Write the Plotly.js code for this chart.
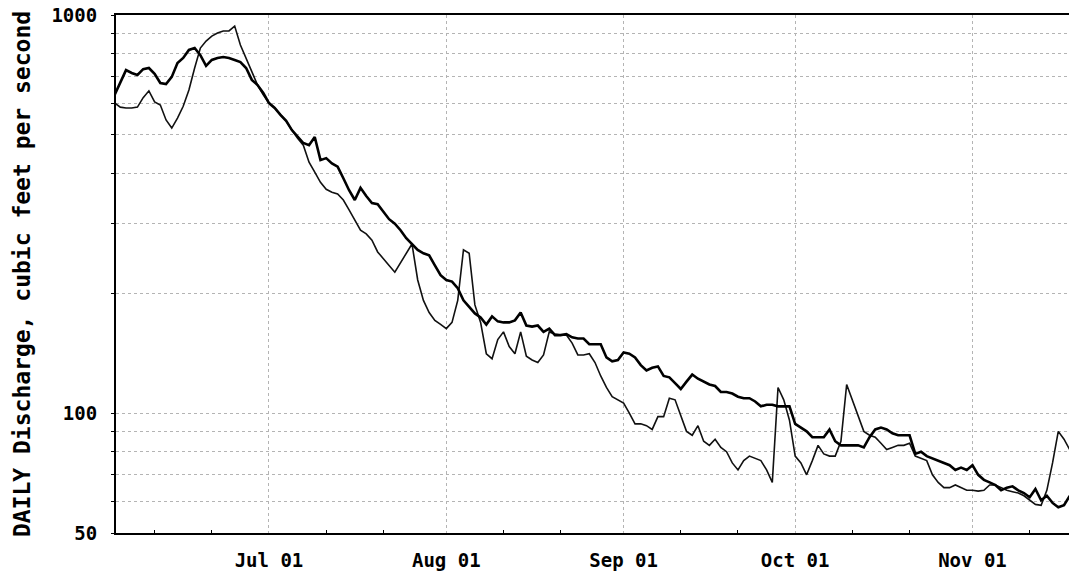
<!DOCTYPE html>
<html>
<head>
<meta charset="utf-8">
<script src="https://cdn.plot.ly/plotly-3.0.1.min.js"></script>
<style>html,body{margin:0;padding:0;background:#fff;}#chart{width:1069px;height:577px;}</style>
</head>
<body>
<div id="chart"></div>
<script>
// First day of both daily series
const startDate = '2001-06-04';

// Thicker series, daily values (cfs), Jun 4 .. Nov 18
const thickJun = [630,675,727,715,707,731,736,712,675,671,699,758,780,817,826,793,745,771,780,784,780,771,762,736,687,667,637];
const thickJul = [601,584,561,542,514,494,477,471,494,432,437,424,416,389,363,343,368,351,337,335,320,307,299,288,275,266,257,252,249,235,222];
const thickAug = [216,214,206,192,185,178,174,167,175,170,169,169,171,179,166,165,166,160,163,157,157,158,155,154,154,149,149,149,138,135,136];
const thickSep = [142,141,138,132,128,130,131,124,123,119,115,120,125,122,120,118,117,113,113,112,110,109,109,107,104,105,105,104,104,104];
const thickOct = [94,92,90,87,87,87,91,85,83,83,83,83,82,87,91,92,91,89,88,88,88,79,80,78,77,76,75,74,72,73,72];
const thickNov = [74,70,68,67,66,64,65,65.5,64,63,61.5,64.5,60.4,62,59.5,58,58.7,62];

// Thinner series, daily values (cfs), Jun 4 .. Nov 18
const thinJun = [601,587,584,584,587,620,645,605,594,545,520,551,590,648,736,826,860,885,901,912,912,938,841,780,719,667,630];
const thinJul = [601,584,564,542,514,490,471,427,403,380,365,359,355,343,324,305,288,282,272,254,245,235,226,238,252,266,216,192,179,171,167];
const thinAug = [163,169,192,257,252,187,169,141,137,153,160,147,141,160,139,136,134,140,160,158,157,157,150,140,140,141,134,124,116,110,108];
const thinSep = [106,100,94,94,93,91,98,98,109,108,98,90,88,93,85,83,86,82,80,75,72,76,78,77,76,72,67,116,108,96];
const thinOct = [78,75,70,76,83,79,78,78,85,118,108,98,90,88,87,84,81,82,83,83,84,78,77,76,70,67,65,65,66,65,64];
const thinNov = [64,63.7,64,66,66,65,64,63.5,63,62,60.4,59,58.7,64,75,90,86,81];

// Axis ticks
const monthTicks = ['2001-07-01','2001-08-01','2001-09-01','2001-10-01','2001-11-01'];
const minorTicks = ['2001-06-11','2001-06-21','2001-07-11','2001-07-21','2001-08-11','2001-08-21','2001-09-11','2001-09-21','2001-10-11','2001-10-21','2001-11-11'];
const yTickVals = [50,60,70,80,90,100,200,300,400,500,600,700,800,900,1000];
const yTickText = ['50','','','','','100','','','','','','','','','1000'];
const yTitle = 'DAILY Discharge, cubic feet per second';

const thick = [].concat(thickJun, thickJul, thickAug, thickSep, thickOct, thickNov);
const thin = [].concat(thinJun, thinJul, thinAug, thinSep, thinOct, thinNov);

function dayList(n) {
  const out = [];
  const d0 = new Date(startDate + 'T00:00:00Z');
  for (let i = 0; i < n; i++) {
    const d = new Date(d0.getTime() + i * 86400000);
    out.push(d.toISOString().slice(0, 10));
  }
  return out;
}

const tickFont = {family: 'DejaVu Sans Mono', size: 19, color: '#000', weight: 'bold'};

const traces = [
  {x: dayList(thin.length), y: thin, type: 'scatter', mode: 'lines',
   line: {color: '#111', width: 1.6}, hoverinfo: 'skip'},
  {x: dayList(thick.length), y: thick, type: 'scatter', mode: 'lines',
   line: {color: '#000', width: 2.6}, hoverinfo: 'skip'}
];

const layout = {
  width: 1069, height: 577,
  margin: {l: 116, r: 0, t: 15, b: 44},
  paper_bgcolor: '#fff', plot_bgcolor: '#fff',
  showlegend: false,
  xaxis: {
    type: 'date',
    range: ['2001-06-04 06:00', '2001-11-17 21:00'],
    tickmode: 'array', tickvals: monthTicks, tickformat: '%b %d',
    tickfont: tickFont, ticks: '', ticklabelstandoff: 9,
    showgrid: true, gridcolor: '#b4b4b4', griddash: 'dot', gridwidth: 1,
    minor: {tickmode: 'array', tickvals: minorTicks, ticks: 'inside', ticklen: 3, tickcolor: '#000', showgrid: false},
    showline: true, linecolor: '#000', linewidth: 2, mirror: true,
    zeroline: false
  },
  yaxis: {
    type: 'log',
    range: [Math.log10(50), 3],
    tickmode: 'array', tickvals: yTickVals, ticktext: yTickText,
    tickfont: tickFont, ticks: 'outside', ticklen: 3, tickcolor: '#000', ticklabelstandoff: 10,
    showgrid: true, gridcolor: '#b4b4b4', griddash: 'dot', gridwidth: 1,
    showline: true, linecolor: '#000', linewidth: 2, mirror: false,
    zeroline: false,
    title: {text: yTitle, font: {family: 'DejaVu Sans Mono', size: 23, color: '#000', weight: 'bold'}, standoff: 14}
  }
};

Plotly.newPlot('chart', traces, layout, {staticPlot: true, displayModeBar: false});
</script>
</body>
</html>
